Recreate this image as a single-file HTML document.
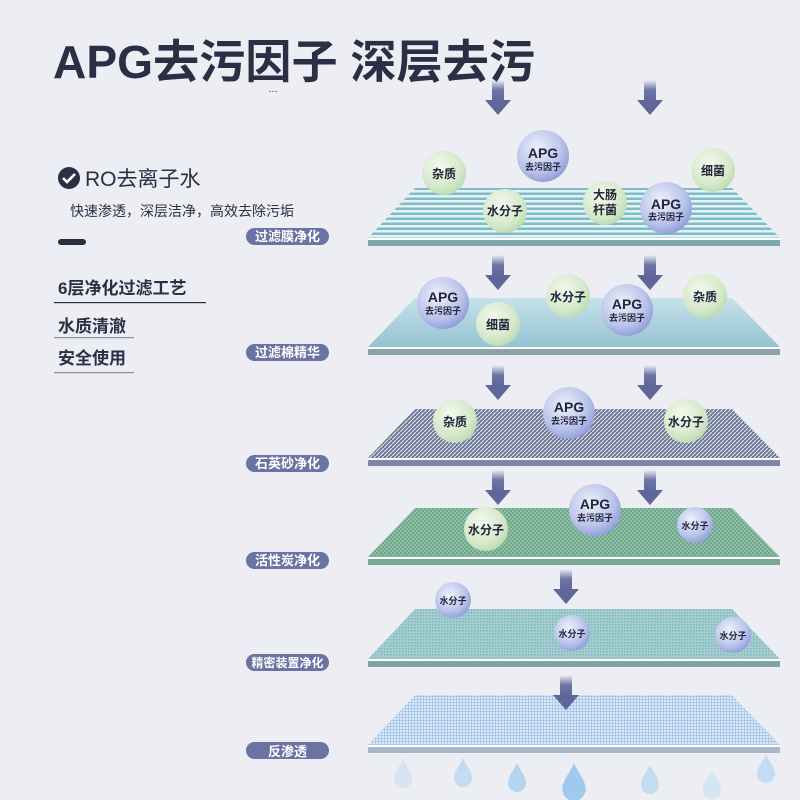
<!DOCTYPE html>
<html><head><meta charset="utf-8"><style>
html,body{margin:0;padding:0;background:#eceef3;}
svg{display:block;font-family:"Liberation Sans","Noto Sans CJK SC",sans-serif;}
</style></head><body>
<svg width="800" height="800" viewBox="0 0 800 800" xmlns="http://www.w3.org/2000/svg">
<defs>
<linearGradient id="arr" x1="0" y1="0" x2="0" y2="1"><stop offset="0" stop-color="#6d75a5" stop-opacity="0"/><stop offset="0.45" stop-color="#6d75a5"/><stop offset="1" stop-color="#5f679a"/></linearGradient>
<radialGradient id="gc" cx="0.4" cy="0.35" r="0.7"><stop offset="0" stop-color="#f4f9ee"/><stop offset="0.7" stop-color="#d4e8c9"/><stop offset="1" stop-color="#b8d8b0"/></radialGradient>
<radialGradient id="bc" cx="0.4" cy="0.35" r="0.7"><stop offset="0" stop-color="#eef0fb"/><stop offset="0.65" stop-color="#bac4ea"/><stop offset="1" stop-color="#8c9ad6"/></radialGradient>
<pattern id="p1" width="6" height="5" patternUnits="userSpaceOnUse"><rect width="6" height="5" fill="#e3f3f5"/><rect y="2.5" width="6" height="2.5" fill="#7fbcc6"/></pattern>
<linearGradient id="g2" x1="0" y1="0" x2="0" y2="1"><stop offset="0" stop-color="#c5e2ea"/><stop offset="1" stop-color="#96c2d2"/></linearGradient>
<pattern id="p3" width="4" height="4" patternUnits="userSpaceOnUse"><rect width="4" height="4" fill="#6f7996"/><path d="M0 4L4 0" stroke="#dfe3ee" stroke-width="1.1"/></pattern>
<pattern id="p4" width="4" height="4" patternUnits="userSpaceOnUse"><rect width="4" height="4" fill="#8fbfa7"/><rect width="2" height="2" fill="#6ea78a"/><rect x="2" y="2" width="2" height="2" fill="#6ea78a"/></pattern>
<pattern id="p5" width="3" height="3" patternUnits="userSpaceOnUse"><rect width="3" height="3" fill="#a3cfd1"/><rect width="1.5" height="1.5" fill="#83b6bb"/></pattern>
<pattern id="p6" width="3" height="3" patternUnits="userSpaceOnUse"><rect width="3" height="3" fill="#dce9f7"/><rect width="3" height="1" fill="#acc8ea"/><rect width="1" height="3" fill="#acc8ea"/></pattern>
<g id="ar"><rect x="-6" y="0" width="12" height="22" fill="url(#arr)"/><path d="M-13 20H13L0 35Z" fill="#5f679a"/></g>
<path id="drop" d="M0 -16C5 -6 9 -2 9 4A9 9 0 0 1 -9 4C-9 -2 -5 -6 0 -16Z"/>
</defs>

<text x="53" y="78" font-size="46" font-weight="bold" fill="#2a2f45" textLength="482" lengthAdjust="spacingAndGlyphs">APG去污因子 深层去污</text>
<text x="268" y="92" font-size="10" fill="#2a2f45">…</text>

<circle cx="69" cy="178" r="11" fill="#2a2f45"/>
<path d="M63 178l4 4 8-8" stroke="#fff" stroke-width="2.6" fill="none"/>
<text x="85" y="186" font-size="21" fill="#2a2f45">RO去离子水</text>
<text x="70" y="216" font-size="14" fill="#2a2f45">快速渗透，深层洁净，高效去除污垢</text>
<rect x="58" y="239" width="28" height="6" rx="3" fill="#2a2f45"/>
<text x="58" y="294" font-size="17" font-weight="bold" fill="#2a2f45">6层净化过滤工艺</text>
<rect x="54" y="302" width="152" height="1.2" fill="#2a2f45"/>
<text x="58" y="332" font-size="17" font-weight="bold" fill="#2a2f45">水质清澈</text>
<rect x="54" y="337" width="80" height="1.2" fill="#8b8fa0"/>
<text x="58" y="364" font-size="17" font-weight="bold" fill="#2a2f45">安全使用</text>
<rect x="54" y="372" width="80" height="1.2" fill="#8b8fa0"/>

<g font-size="13" fill="#fff" text-anchor="middle" font-weight="bold">
<rect x="246" y="228" width="83" height="17" rx="8.5" fill="#6b73a4"/><text x="287.5" y="241">过滤膜净化</text>
<rect x="246" y="344" width="83" height="17" rx="8.5" fill="#6b73a4"/><text x="287.5" y="357">过滤棉精华</text>
<rect x="246" y="455" width="83" height="17" rx="8.5" fill="#6b73a4"/><text x="287.5" y="468">石英砂净化</text>
<rect x="246" y="552" width="83" height="17" rx="8.5" fill="#6b73a4"/><text x="287.5" y="565">活性炭净化</text>
<rect x="246" y="654" width="83" height="17" rx="8.5" fill="#6b73a4"/><text x="287.5" y="667" font-size="12">精密装置净化</text>
<rect x="246" y="742" width="83" height="17" rx="8.5" fill="#6b73a4"/><text x="287.5" y="756">反渗透</text>
</g>

<path d="M415 188H732L780 238H368Z" fill="url(#p1)"/>
<rect x="368" y="238" width="412" height="2" fill="#fff"/><rect x="368" y="240" width="412" height="6" fill="#7fa7b0"/>
<path d="M415 298H732L780 347H368Z" fill="url(#g2)"/>
<rect x="368" y="347" width="412" height="2" fill="#fff"/><rect x="368" y="349" width="412" height="6" fill="#8aa3ab"/>
<path d="M415 409H732L780 458H368Z" fill="url(#p3)"/>
<rect x="368" y="458" width="412" height="2" fill="#fff"/><rect x="368" y="460" width="412" height="6" fill="#7c87a8"/>
<path d="M415 508H732L780 557H368Z" fill="url(#p4)"/>
<rect x="368" y="557" width="412" height="2" fill="#fff"/><rect x="368" y="559" width="412" height="6" fill="#7ba894"/>
<path d="M415 609H732L780 659H368Z" fill="url(#p5)"/>
<rect x="368" y="659" width="412" height="2" fill="#fff"/><rect x="368" y="661" width="412" height="6" fill="#7ea4a8"/>
<path d="M415 695H732L780 745H368Z" fill="url(#p6)"/>
<rect x="368" y="745" width="412" height="2" fill="#fff"/><rect x="368" y="747" width="412" height="6" fill="#a9b6c6"/>

<use href="#ar" x="498" y="80"/><use href="#ar" x="650" y="80"/>
<use href="#ar" x="498" y="255"/><use href="#ar" x="650" y="255"/>
<use href="#ar" x="498" y="365"/><use href="#ar" x="650" y="365"/>
<use href="#ar" x="498" y="470"/><use href="#ar" x="650" y="470"/>
<use href="#ar" x="566" y="569"/>
<use href="#ar" x="566" y="675"/>

<g font-weight="bold" fill="#22263a" text-anchor="middle">
<circle cx="444" cy="173" r="22" fill="url(#gc)"/><text x="444" y="178" font-size="12">杂质</text>
<circle cx="543" cy="156" r="26" fill="url(#bc)"/><text x="543" y="158" font-size="14">APG</text><text x="543" y="170" font-size="9">去污因子</text>
<circle cx="713" cy="170" r="22" fill="url(#gc)"/><text x="713" y="175" font-size="12">细菌</text>
<circle cx="505" cy="211" r="22" fill="url(#gc)"/><text x="505" y="215" font-size="12">水分子</text>
<circle cx="605" cy="203" r="22" fill="url(#gc)"/><text x="605" y="199" font-size="12">大肠</text><text x="605" y="214" font-size="12">杆菌</text>
<circle cx="666" cy="208" r="26" fill="url(#bc)"/><text x="666" y="209" font-size="14">APG</text><text x="666" y="220" font-size="9">去污因子</text>

<circle cx="443" cy="303" r="26" fill="url(#bc)"/><text x="443" y="302" font-size="14">APG</text><text x="443" y="314" font-size="9">去污因子</text>
<circle cx="498" cy="324" r="22" fill="url(#gc)"/><text x="498" y="329" font-size="12">细菌</text>
<circle cx="568" cy="296" r="22" fill="url(#gc)"/><text x="568" y="301" font-size="12">水分子</text>
<circle cx="627" cy="310" r="26" fill="url(#bc)"/><text x="627" y="309" font-size="14">APG</text><text x="627" y="321" font-size="9">去污因子</text>
<circle cx="705" cy="296" r="22" fill="url(#gc)"/><text x="705" y="301" font-size="12">杂质</text>

<circle cx="455" cy="421" r="22" fill="url(#gc)"/><text x="455" y="426" font-size="12">杂质</text>
<circle cx="569" cy="413" r="26" fill="url(#bc)"/><text x="569" y="412" font-size="14">APG</text><text x="569" y="424" font-size="9">去污因子</text>
<circle cx="686" cy="421" r="22" fill="url(#gc)"/><text x="686" y="426" font-size="12">水分子</text>

<circle cx="486" cy="529" r="22" fill="url(#gc)"/><text x="486" y="534" font-size="12">水分子</text>
<circle cx="595" cy="510" r="26" fill="url(#bc)"/><text x="595" y="509" font-size="14">APG</text><text x="595" y="521" font-size="9">去污因子</text>
<circle cx="695" cy="525" r="18" fill="url(#bc)"/><text x="695" y="529" font-size="9">水分子</text>

<circle cx="453" cy="600" r="18" fill="url(#bc)"/><text x="453" y="604" font-size="9">水分子</text>
<circle cx="572" cy="633" r="18" fill="url(#bc)"/><text x="572" y="637" font-size="9">水分子</text>
<circle cx="733" cy="635" r="18" fill="url(#bc)"/><text x="733" y="639" font-size="9">水分子</text>
</g>

<use href="#drop" x="403" y="775" fill="#d6e5f3"/>
<use href="#drop" x="463" y="774" fill="#c4dcf2"/>
<use href="#drop" x="517" y="779" fill="#b4d5f0"/>
<use href="#drop" x="574" y="784" fill="#9fcaee" transform="translate(574 784) scale(1.3) translate(-574 -784)"/>
<use href="#drop" x="650" y="781" fill="#c4dcf2"/>
<use href="#drop" x="712" y="786" fill="#d6e5f3"/>
<use href="#drop" x="766" y="770" fill="#c4dcf2"/>
</svg>
</body></html>
